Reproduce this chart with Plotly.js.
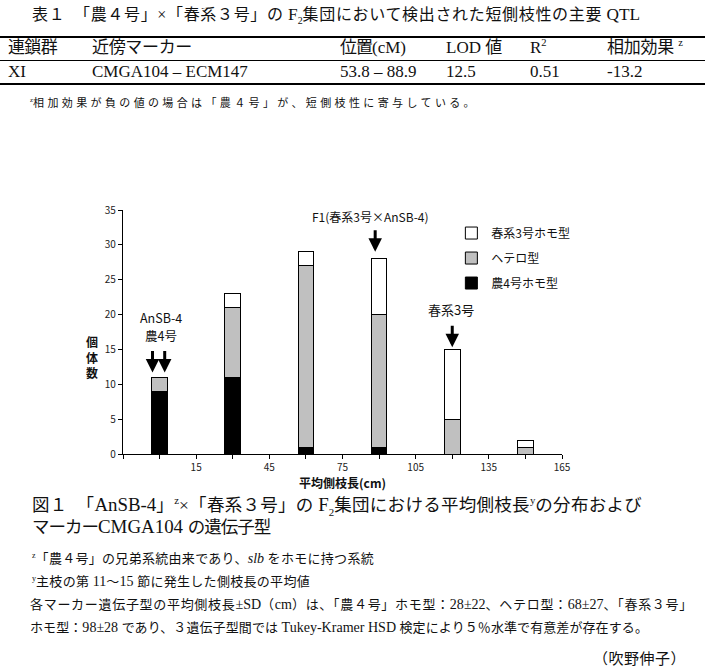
<!DOCTYPE html>
<html>
<head>
<meta charset="utf-8">
<script src="https://cdn.plot.ly/plotly-3.0.1.min.js"></script>
<style>
html,body{margin:0;padding:0;background:#fff;width:705px;height:672px;overflow:hidden;position:relative;}
#chart{position:absolute;left:0;top:0;width:705px;height:672px;}
.t{position:absolute;white-space:nowrap;color:#111;font-family:"Liberation Serif","Noto Sans CJK JP",serif;}
.lat{letter-spacing:0;}
.big .lat{font-size:108%;}
.big sup .lat, .big sub .lat{font-size:100%;}
.rule{position:absolute;left:0;width:705px;background:#000;}
sup,sub{font-size:62%;line-height:0;}
</style>
</head>
<body>
<div id="chart"></div>
<script>
// ---- data ----
var classMid = [0, 30, 60, 90, 120, 150];          // 平均側枝長 class (cm)
var nou4Homo = [9, 11, 1, 1, 0, 0];                // 農4号ホモ型
var hetero   = [2, 10, 26, 19, 5, 1];              // ヘテロ型
var shunHomo = [0, 2, 2, 8, 10, 1];                // 春系3号ホモ型
var seriesNames = ['農4号ホモ型', 'ヘテロ型', '春系3号ホモ型'];
var xTickVals = [15, 45, 75, 105, 135, 165];
var xMinorTicks = [-15, 0, 30, 60, 90, 120, 150];

// table
var tableTitle = '表１　「農４号」×「春系３号」の F<sub>2</sub>集団において検出された短側枝性の主要 QTL';
var headerCells = ['連鎖群', '近傍マーカー', '位置(cM)', 'LOD 値', 'R<sup>2</sup>', '相加効果 <sup>z</sup>'];
var rowCells = ['XI', 'CMGA104 – ECM147', '53.8 – 88.9', '12.5', '0.51', '-13.2'];
var tableNote = '<sup>z</sup>相加効果が負の値の場合は「農４号」が、短側枝性に寄与している。';
var captionLines = [
  '図１　「AnSB-4」<sup>z</sup>×「春系３号」の F<sub>2</sub>集団における平均側枝長<sup>y</sup>の分布および',
  'マーカーCMGA104 の遺伝子型'
];
var noteLines = [
  '<sup>z</sup>「農４号」の兄弟系統由来であり、<i>slb</i> をホモに持つ系統',
  '<sup>y</sup>主枝の第 11～15 節に発生した側枝長の平均値',
  '各マーカー遺伝子型の平均側枝長±SD（cm）は、「農４号」ホモ型：28±22、ヘテロ型：68±27、「春系３号」',
  'ホモ型：98±28 であり、３遺伝子型間では Tukey-Kramer HSD 検定により５％水準で有意差が存在する。'
];
var author = '（吹野伸子）';

// ---- text layout helper ----
var latRe = /[\x20-\x7E±–]+/g;
function wrapLatin(node) {
  var kids = Array.from(node.childNodes);
  kids.forEach(function (k) {
    if (k.nodeType === 3) {
      var s = k.nodeValue;
      if (!latRe.test(s)) return;
      latRe.lastIndex = 0;
      var frag = document.createDocumentFragment();
      var last = 0, m;
      while ((m = latRe.exec(s)) !== null) {
        if (m.index > last) frag.appendChild(document.createTextNode(s.slice(last, m.index)));
        var sp = document.createElement('span');
        sp.className = 'lat';
        sp.textContent = m[0];
        frag.appendChild(sp);
        last = m.index + m[0].length;
      }
      if (last < s.length) frag.appendChild(document.createTextNode(s.slice(last)));
      node.replaceChild(frag, k);
    } else if (k.nodeType === 1) {
      wrapLatin(k);
    }
  });
}
function place(html, left, right, cy, size, big) {
  var d = document.createElement('div');
  d.className = 't' + (big ? ' big' : '');
  d.innerHTML = html;
  d.style.fontSize = size + 'px';
  d.style.lineHeight = Math.round(size * 1.3) + 'px';
  d.style.left = left + 'px';
  wrapLatin(d);
  document.body.appendChild(d);
  var h = d.getBoundingClientRect().height;
  d.style.top = (cy - h / 2) + 'px';
  if (right) {
    var w = d.getBoundingClientRect().width;
    var all = Array.from(d.textContent).length;
    var lat = 0;
    d.querySelectorAll('.lat').forEach(function (s) { lat += Array.from(s.textContent).length; });
    var n = all - lat;
    if (n > 1) d.style.letterSpacing = Math.max(-1, (right - left - w) / n) + 'px';
  }
  return d;
}
function rule(y, h) {
  var r = document.createElement('div');
  r.className = 'rule';
  r.style.top = y + 'px';
  r.style.height = h + 'px';
  document.body.appendChild(r);
}

place(tableTitle, 32, 640, 14, 16, true);
rule(36, 1.5); rule(60, 1); rule(83, 1.5);
var colL = [8, 92, 340, 446, 530, 607];
var headR = [57, 192, 405, 500, 552, 683];
for (var i = 0; i < headerCells.length; i++) {
  place(headerCells[i], colL[i], (i === 4 ? null : headR[i]), 48, 17);
  place(rowCells[i], colL[i], null, 72, 17);
}
place(tableNote, 30, 478, 103, 11);
place(captionLines[0], 32, 642, 505, 17.5, true);
place(captionLines[1], 32, 265, 527, 17.5, true);
place(noteLines[0], 32, 374, 558, 13, true);
place(noteLines[1], 32, 310, 581, 13, true);
place(noteLines[2], 30, 693, 604, 13, true);
place(noteLines[3], 30, 648, 627, 13, true);
place(author, 593, 686, 659, 15);

// ---- chart ----
var barStyle = function (c) { return {color: c, line: {color: '#000', width: 1}}; };
var traces = [
  {type: 'bar', x: classMid, y: nou4Homo, name: seriesNames[0], legendrank: 3, width: 6.4, marker: barStyle('#000000')},
  {type: 'bar', x: classMid, y: hetero, name: seriesNames[1], legendrank: 2, width: 6.4, marker: barStyle('#c0c0c0')},
  {type: 'bar', x: classMid, y: shunHomo, name: seriesNames[2], legendrank: 1, width: 6.4, marker: barStyle('#ffffff')}
];
traces[0].legendgroup = 'g3'; traces[1].legendgroup = 'g2'; traces[2].legendgroup = 'g1';
var cjk = '"Noto Sans CJK JP", sans-serif';
function arrow(x, y) {
  return {x: x, y: y, xref: 'x', yref: 'y', text: '', showarrow: true, arrowhead: 2, arrowsize: 0.9,
          arrowwidth: 3, arrowcolor: '#000', ax: 0, ay: -23, standoff: 0, font: {size: 1}};
}
var labelFont = {family: cjk, size: 12.5, color: '#111'};
var layout = {
  width: 705, height: 672,
  margin: {l: 123, r: 143, t: 210, b: 218, pad: 0},
  paper_bgcolor: 'rgba(0,0,0,0)', plot_bgcolor: 'rgba(0,0,0,0)',
  barmode: 'stack',
  showlegend: true,
  legend: {x: 0.748, y: 0.965, xanchor: 'left', yanchor: 'top', traceorder: 'grouped', tracegroupgap: 6,
           font: {family: cjk, size: 12, color: '#111'}, bgcolor: 'rgba(0,0,0,0)', itemwidth: 30},
  font: {family: cjk, color: '#111'},
  xaxis: {range: [-15, 165], tickmode: 'array', tickvals: xTickVals, ticks: 'outside', ticklen: 4, tickwidth: 1,
          tickcolor: '#000', showline: true, linecolor: '#000', linewidth: 1.2, showgrid: false, zeroline: false,
          tickfont: {family: cjk, size: 10, color: '#222'},
          minor: {tickmode: 'array', tickvals: xMinorTicks, ticks: 'outside', ticklen: 4, tickcolor: '#000', tickwidth: 1, showgrid: false},
          title: {text: '<b>平均側枝長(cm)</b>', font: {family: cjk, size: 12, color: '#111'}, standoff: 4}},
  yaxis: {range: [0, 35], dtick: 5, ticks: 'outside', ticklen: 4, tickwidth: 1, tickcolor: '#000',
          showline: true, linecolor: '#000', linewidth: 1.2, showgrid: false, zeroline: false,
          tickfont: {family: cjk, size: 10, color: '#222'}},
  annotations: [
    {x: -0.07, y: 13.9, xref: 'paper', yref: 'y', text: '<b>個<br>体<br>数</b>', showarrow: false,
     font: {family: cjk, size: 12, color: '#111'}, xanchor: 'center', yanchor: 'middle'},
    {x: 0.5, y: 19.6, xref: 'x', yref: 'y', text: 'AnSB-4', showarrow: false, font: labelFont, xanchor: 'center', yanchor: 'middle'},
    {x: 0.5, y: 17.05, xref: 'x', yref: 'y', text: '農4号', showarrow: false, font: labelFont, xanchor: 'center', yanchor: 'middle'},
    {x: 86.5, y: 34.1, xref: 'x', yref: 'y', text: 'F1(春系3号×AnSB-4)', showarrow: false, font: {family: cjk, size: 12, color: '#111'}, xanchor: 'center', yanchor: 'middle'},
    {x: 119.5, y: 20.7, xref: 'x', yref: 'y', text: '春系3号', showarrow: false, font: {family: cjk, size: 13, color: '#111'}, xanchor: 'center', yanchor: 'middle'},
    arrow(-2.9, 11.7), arrow(2.1, 11.7), arrow(88.4, 29.0), arrow(120, 15.3)
  ]
};
Plotly.newPlot('chart', traces, layout, {displayModeBar: false, staticPlot: true});
</script>
</body>
</html>
